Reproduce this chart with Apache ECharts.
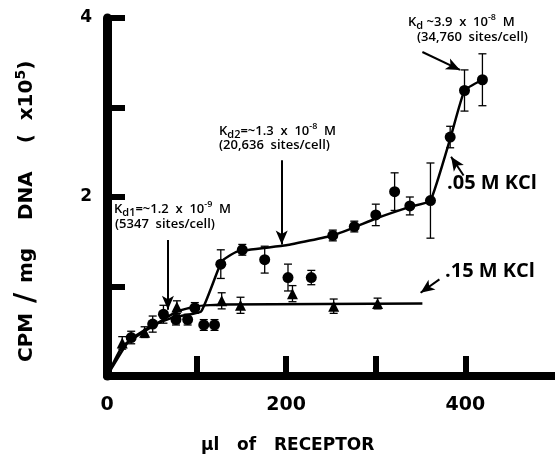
<!DOCTYPE html>
<html>
<head>
<meta charset="utf-8">
<script src="https://cdn.jsdelivr.net/npm/echarts@6/dist/echarts.min.js"></script>
<style>
  html, body { margin: 0; padding: 0; background: #fff; }
  #main { width: 555px; height: 470px; }
</style>
</head>
<body>
<div id="main"></div>
<script>
// .05 M KCl (circles)
var circX = [27, 51, 63, 77, 90, 98, 108, 120, 127, 151, 176, 202, 228, 252, 276, 300, 321, 338, 361, 383, 399, 419];
var circY = [0.43, 0.58, 0.69, 0.63, 0.63, 0.76, 0.57, 0.57, 1.25, 1.41, 1.30, 1.10, 1.10, 1.57, 1.67, 1.80, 2.06, 1.90, 1.96, 2.67, 3.19, 3.31];
var circErr = [0.07, 0.09, 0.1, 0.06, 0.06, 0.06, 0.06, 0.06, 0.16, 0.06, 0.15, 0.15, 0.08, 0.06, 0.06, 0.12, 0.21, 0.1, 0.42, 0.12, 0.23, 0.29];

// .15 M KCl (triangles)
var triX = [17, 42, 78, 128, 149, 207, 253, 302];
var triY = [0.37, 0.49, 0.77, 0.84, 0.79, 0.92, 0.78, 0.81];
var triErr = [0.07, 0.06, 0.07, 0.09, 0.09, 0.09, 0.08, 0.06];

// hand drawn fit curves
var fit05X = [0, 25, 50, 75, 105, 128, 145, 200, 252, 276, 300, 338, 361, 383, 399, 419];
var fit05Y = [0, 0.4, 0.56, 0.66, 0.72, 1.28, 1.39, 1.46, 1.57, 1.66, 1.76, 1.89, 1.96, 2.65, 3.19, 3.31];
var fit15X = [0, 17, 42, 78, 100, 130, 352];
var fit15Y = [0, 0.33, 0.5, 0.72, 0.78, 0.8, 0.81];

// ticks
var xTicks = [100, 200, 300, 400];
var xLabels = [0, 200, 400];
var yTicks = [1, 2, 3, 4];
var yLabels = [2, 4];

function zip(xs, ys) {
  return xs.map(function (x, i) { return [x, ys[i]]; });
}
function errData(xs, ys, es) {
  return xs.map(function (x, i) { return [x, ys[i] - es[i], ys[i] + es[i]]; });
}
function errRender(params, api) {
  var lo = api.coord([api.value(0), api.value(1)]);
  var hi = api.coord([api.value(0), api.value(2)]);
  var w = 4;
  var st = { stroke: "#000", lineWidth: 1.3 };
  return {
    type: "group",
    children: [
      { type: "line", shape: { x1: lo[0], y1: lo[1], x2: hi[0], y2: hi[1] }, style: st },
      { type: "line", shape: { x1: lo[0] - w, y1: lo[1], x2: lo[0] + w, y2: lo[1] }, style: st },
      { type: "line", shape: { x1: hi[0] - w, y1: hi[1], x2: hi[0] + w, y2: hi[1] }, style: st },
    ],
  };
}

var annFont = "Open Sans";
var annRich = {
  n: { fontSize: 13, fontFamily: annFont, fontWeight: 600, color: "#000", lineHeight: 18, verticalAlign: "middle" },
  sub: { fontSize: 11, fontFamily: annFont, fontWeight: 600, color: "#000", lineHeight: 11, verticalAlign: "bottom" },
  sup: { fontSize: 9, fontFamily: annFont, fontWeight: 600, color: "#000", lineHeight: 9, verticalAlign: "top" },
};
function ann(left, top, txt) {
  return { type: "text", left: left, top: top, style: { text: txt, rich: annRich } };
}

var arrowStyle = { color: "#000", width: 2, type: "solid" };

var myChart = echarts.init(document.getElementById("main"));
var option = {
  animation: false,
  backgroundColor: "#fff",
  grid: { left: 107, right: 0, top: 18, bottom: 94, containLabel: false },
  xAxis: {
    type: "value",
    min: 0,
    max: 500,
    interval: 100,
    splitLine: { show: false },
    axisLine: { lineStyle: { color: "#000", width: 8 } },
    axisTick: { inside: true, length: 20, customValues: xTicks, lineStyle: { color: "#000", width: 6 } },
    axisLabel: {
      customValues: xLabels,
      margin: 20,
      color: "#000",
      fontSize: 19,
      fontWeight: "bold",
      fontFamily: "DejaVu Sans",
    },
  },
  yAxis: {
    type: "value",
    min: 0,
    max: 4,
    interval: 1,
    splitLine: { show: false },
    axisLine: { lineStyle: { color: "#000", width: 9 } },
    axisTick: { inside: true, length: 18, customValues: yTicks, lineStyle: { color: "#000", width: 6 } },
    axisLabel: {
      customValues: yLabels,
      margin: 15,
      color: "#000",
      fontSize: 17,
      fontWeight: "bold",
      fontFamily: "DejaVu Sans",
    },
  },
  series: [
    {
      name: "fit05",
      type: "line",
      data: zip(fit05X, fit05Y),
      showSymbol: false,
      smooth: 0.12,
      lineStyle: { color: "#000", width: 2.5 },
      z: 2,
      markLine: {
        silent: true,
        symbol: ["none", "arrow"],
        symbolSize: [9, 14],
        label: { show: false },
        lineStyle: arrowStyle,
        data: [
          [{ coord: [68, 1.52] }, { coord: [68, 0.74] }],
          [{ coord: [195, 2.41] }, { coord: [195, 1.47] }],
          [{ coord: [352, 3.62] }, { coord: [394, 3.42] }],
          [{ coord: [398, 2.24] }, { coord: [384, 2.45] }],
          [{ coord: [371, 1.08] }, { coord: [350, 0.93] }],
        ],
      },
    },
    {
      name: "fit15",
      type: "line",
      data: zip(fit15X, fit15Y),
      showSymbol: false,
      smooth: 0.12,
      lineStyle: { color: "#000", width: 2.5 },
      z: 2,
    },
    {
      name: "err05",
      type: "custom",
      renderItem: errRender,
      data: errData(circX, circY, circErr),
      z: 3,
    },
    {
      name: "err15",
      type: "custom",
      renderItem: errRender,
      data: errData(triX, triY, triErr),
      z: 3,
    },
    {
      name: ".05 M KCl",
      type: "scatter",
      data: zip(circX, circY),
      symbol: "circle",
      symbolSize: 11,
      itemStyle: { color: "#000", opacity: 1 },
      z: 4,
    },
    {
      name: ".15 M KCl",
      type: "scatter",
      data: zip(triX, triY),
      symbol: "triangle",
      symbolSize: 11,
      itemStyle: { color: "#000", opacity: 1 },
      z: 4,
    },
  ],
  graphic: [
    ann(114, 200, "{n|K}{sub|d1}{n|=~1.2  x  10}{sup|-9}{n|  M}"),
    ann(115, 218, "{n|(5347  sites/cell)}"),
    ann(219, 122, "{n|K}{sub|d2}{n|=~1.3  x  10}{sup|-8}{n|  M}"),
    ann(219, 139, "{n|(20,636  sites/cell)}"),
    ann(408, 13, "{n|K}{sub|d}{n| ~3.9  x  10}{sup|-8}{n|  M}"),
    ann(417, 31, "{n|(34,760  sites/cell)}"),
    {
      type: "text",
      left: 447,
      top: 173,
      style: { text: ".05 M KCl", fontSize: 20, fontWeight: "bold", fontFamily: "Open Sans", fill: "#000" },
    },
    {
      type: "text",
      left: 445,
      top: 261,
      style: { text: ".15 M KCl", fontSize: 20, fontWeight: "bold", fontFamily: "Open Sans", fill: "#000" },
    },
    {
      type: "text",
      left: 201,
      top: 437,
      style: { text: "μl   of   RECEPTOR", fontSize: 17, fontWeight: "bold", fontFamily: "DejaVu Sans", fill: "#000" },
    },
    {
      type: "text",
      x: 14,
      y: 362,
      rotation: Math.PI / 2,
      style: {
        text: "{t|CPM}{sl| / }{t|mg    DNA    (  x10}{s|5}{t|)}",
        rich: {
          t: { fontSize: 20, fontWeight: "bold", fontFamily: "DejaVu Sans", color: "#000", lineHeight: 26, verticalAlign: "middle" },
          sl: { fontSize: 28, fontWeight: "bold", fontFamily: "DejaVu Sans", color: "#000", lineHeight: 26, verticalAlign: "middle" },
          s: { fontSize: 14, fontWeight: "bold", fontFamily: "DejaVu Sans", color: "#000", lineHeight: 14, verticalAlign: "top" },
        },
      },
    },
  ],
};
myChart.setOption(option);
window.addEventListener("resize", function () {
  myChart.resize();
});
</script>
</body>
</html>
